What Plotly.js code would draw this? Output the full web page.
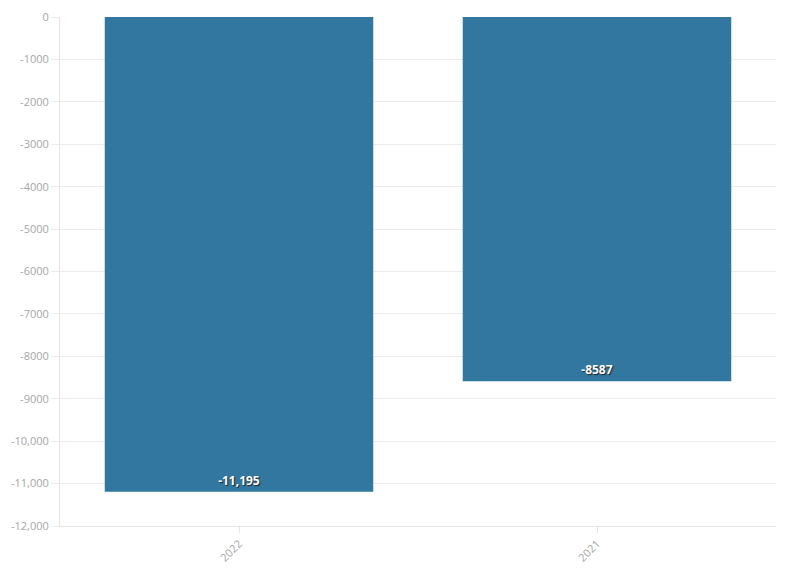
<!DOCTYPE html>
<html>
<head>
<meta charset="utf-8">
<script src="https://cdn.plot.ly/plotly-3.0.1.min.js"></script>
<style>html,body{margin:0;padding:0;background:#fff;}#chart{width:796px;height:575px;}</style>
</head>
<body>
<div id="chart"></div>
<script>
var categories = ["2022", "2021"];
var values = [-11195, -8587];
var valueLabels = ["-11,195", "-8587"];
var yTicks = [0, -1000, -2000, -3000, -4000, -5000, -6000, -7000, -8000, -9000, -10000, -11000, -12000];
var yTickLabels = ["0", "-1000", "-2000", "-3000", "-4000", "-5000", "-6000", "-7000", "-8000", "-9000", "-10,000", "-11,000", "-12,000"];

var trace = {
  type: "bar",
  x: categories,
  y: values,
  text: valueLabels,
  texttemplate: "%{text}",
  textposition: "inside",
  insidetextanchor: "end",
  textangle: 0,
  textfont: {family: "Open Sans, sans-serif", size: 12, color: "#ffffff", weight: "bold", shadow: "1px 1px 1px #222"},
  marker: {color: "rgb(50,119,159)"},
  hoverinfo: "none"
};

var layout = {
  width: 796, height: 575,
  margin: {l: 60, r: 20, t: 17, b: 49},
  paper_bgcolor: "#fff", plot_bgcolor: "#fff",
  bargap: 0.25,
  showlegend: false,
  font: {family: "Open Sans, sans-serif", color: "#a6a6a6", size: 11},
  xaxis: {
    type: "category",
    tickangle: -45,
    showgrid: false,
    showline: true,
    linecolor: "#e4e4e4",
    ticks: "outside",
    ticklen: 6,
    tickcolor: "#e4e4e4",
    tickfont: {size: 11, color: "#a6a6a6"}
  },
  yaxis: {
    range: [-12000, 0],
    tickmode: "array",
    tickvals: yTicks,
    ticktext: yTickLabels,
    showgrid: true,
    gridcolor: "#ececec",
    zeroline: false,
    showline: true,
    linecolor: "#e4e4e4",
    ticks: "outside",
    ticklen: 8,
    tickcolor: "#ececec",
    tickfont: {size: 11, color: "#a6a6a6"}
  }
};

Plotly.newPlot("chart", [trace], layout, {staticPlot: true, displayModeBar: false});
</script>
</body>
</html>
